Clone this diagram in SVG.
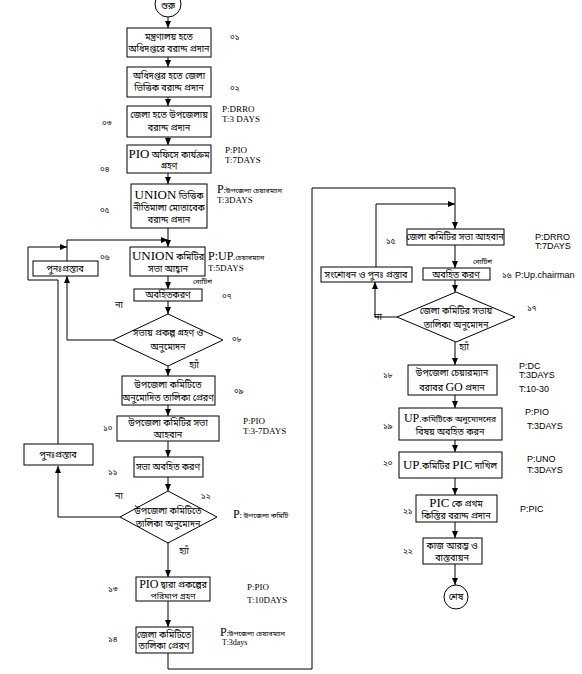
<svg xmlns="http://www.w3.org/2000/svg" width="582" height="674" viewBox="0 0 582 674">
<defs>
<marker id="ah" markerWidth="7" markerHeight="6" refX="7" refY="3" orient="auto" markerUnits="userSpaceOnUse">
<path d="M0,0 L7,3 L0,6 z" fill="#000"/>
</marker>
<style>
rect,circle,polygon{fill:#fff;stroke:#000;stroke-width:1}
.c path,.c line{fill:none;stroke:#000;stroke-width:1;marker-end:url(#ah)}
text{font-family:"Noto Sans Bengali","Noto Sans","DejaVu Sans",sans-serif;fill:#000}
.b{font-size:9px;text-anchor:middle}
.num{font-size:8px}
.big{font-family:"Liberation Serif",serif;font-size:13px}
.s{font-family:"Liberation Serif",serif;font-size:9px}
.sb{font-family:"Liberation Serif",serif;font-size:12px}
.a{font-family:"Liberation Sans",sans-serif;font-size:9px}
.sm{font-size:7px}
</style>
</defs>
<rect x="0" y="0" width="582" height="674" style="stroke:none;fill:#fff"/>

<g class="c" id="connectors">
<line x1="168" y1="17" x2="168" y2="28"/>
<line x1="168" y1="57" x2="168" y2="67"/>
<line x1="168" y1="97" x2="168" y2="106"/>
<line x1="168" y1="137" x2="168" y2="145"/>
<line x1="168" y1="173" x2="168" y2="184"/>
<line x1="168" y1="228" x2="168" y2="247"/>
<line x1="168" y1="276" x2="168" y2="289"/>
<line x1="168" y1="301" x2="168" y2="314"/>
<line x1="168" y1="366" x2="168" y2="376"/>
<line x1="168" y1="405" x2="168" y2="416"/>
<line x1="168" y1="441" x2="168" y2="457"/>
<line x1="168" y1="477" x2="168" y2="491"/>
<line x1="168" y1="543" x2="168" y2="577"/>
<line x1="168" y1="601" x2="168" y2="627"/>
<path d="M113,340 H67 V276"/>
<path d="M67,261 V240 H168"/>
<path d="M58,444 V280 H28 V247 H67"/>
<path d="M120,517 H58 V466"/>
<path d="M168,653 V669 H312 V188 H455 V229"/>
<line x1="455" y1="245" x2="455" y2="268"/>
<line x1="455" y1="280" x2="455" y2="292"/>
<path d="M397,317 H375 V282"/>
<path d="M376,267 V204 H455"/>
<line x1="455" y1="342" x2="455" y2="365"/>
<line x1="455" y1="395" x2="455" y2="408"/>
<line x1="455" y1="440" x2="455" y2="452"/>
<line x1="455" y1="478" x2="455" y2="495"/>
<line x1="455" y1="522" x2="455" y2="538"/>
<line x1="455" y1="564" x2="455" y2="585"/>
</g>

<g id="start"><circle cx="168" cy="4" r="13"/><text class="b" x="168" y="9">শুরু</text></g>

<g id="n01"><rect x="127" y="28" width="84" height="29"/>
<text class="b" x="169" y="40">মন্ত্রণালয় হতে</text><text class="b" x="169" y="52">অধিদপ্তরে বরাদ্দ প্রদান</text>
<text class="num" x="230" y="40">০১</text></g>

<g id="n02"><rect x="127" y="67" width="84" height="30"/>
<text class="b" x="169" y="79">অধিদপ্তর  হতে জেলা</text><text class="b" x="169" y="91">ভিত্তিক বরাদ্দ প্রদান</text>
<text class="num" x="230" y="91">০২</text></g>

<g id="n03"><rect x="127" y="106" width="84" height="31"/>
<text class="b" x="169" y="118">জেলা হতে উপজেলায়</text><text class="b" x="169" y="131">বরাদ্দ প্রদান</text>
<text class="num" x="102" y="126">০৩</text>
<text class="s" x="222" y="112">P:DRRO</text><text class="s" x="222" y="122">T:3 DAYS</text></g>

<g id="n04"><rect x="127" y="145" width="84" height="28"/>
<text class="b" x="169" y="158"><tspan class="big">PIO</tspan> অফিসে কার্যক্রম</text><text class="b" x="169" y="169">গ্রহণ</text>
<text class="num" x="100" y="172">০৪</text>
<text class="s" x="225" y="153">P:PIO</text><text class="s" x="225" y="163">T:7DAYS</text></g>

<g id="n05"><rect x="131" y="184" width="76" height="44"/>
<text class="b" x="169" y="199"><tspan class="big">UNION</tspan> ভিত্তিক</text><text class="b" x="169" y="211">নীতিমালা মোতাবেক</text><text class="b" x="169" y="223">বরাদ্দ প্রদান</text>
<text class="num" x="100" y="213">০৫</text>
<text x="217" y="193"><tspan class="sb">P</tspan><tspan class="sm">:উপজেলা চেয়ারম্যান</tspan></text><text class="s" x="217" y="203">T:3DAYS</text></g>

<g id="n06"><rect x="130" y="247" width="75" height="29"/>
<text class="b" x="168" y="260"><tspan class="big">UNION</tspan> কমিটির</text><text class="b" x="168" y="272">সভা আহ্বান</text>
<text class="num" x="100" y="260">০৬</text>
<text x="208" y="260"><tspan class="sb">P:UP</tspan><tspan class="sm">.চেয়ারম্যান</tspan></text><text class="s" x="208" y="271">T:5DAYS</text>
<text class="sm" x="193" y="284">নোটিশ</text></g>

<g id="re1"><rect x="33" y="261" width="65" height="15"/><text class="b" x="65" y="272">পুনঃপ্রস্তাব</text></g>

<g id="n07"><rect x="134" y="289" width="68" height="12"/>
<text class="b" x="168" y="298">অবহিতকরণ</text>
<text class="num" x="222" y="299">০৭</text></g>

<g id="n08"><polygon points="168,314 223,340 168,366 113,340"/>
<text class="b" x="168" y="336">সভায় প্রকল্প গ্রহণ ও</text><text class="b" x="168" y="350">অনুমোদন</text>
<text class="num" x="232" y="342">০৮</text>
<text class="b" x="119" y="308">না</text><text class="b" x="194" y="368">হ্যাঁ</text></g>

<g id="n09"><rect x="122" y="376" width="93" height="29"/>
<text class="b" x="168" y="388">উপজেলা কমিটিতে</text><text class="b" x="168" y="401">অনুমোদিত তালিকা প্রেরণ</text>
<text class="num" x="234" y="394">০৯</text></g>

<g id="n10"><rect x="117" y="416" width="102" height="25"/>
<text class="b" x="168" y="426">উপজেলা কমিটির সভা</text><text class="b" x="168" y="438">আহবান</text>
<text class="num" x="103" y="431">১০</text>
<text class="s" x="243" y="424">P:PIO</text><text class="s" x="243" y="434">T:3-7DAYS</text></g>

<g id="re2"><rect x="24" y="444" width="69" height="21"/><text class="b" x="58" y="458">পুনঃপ্রস্তাব</text></g>

<g id="n11"><rect x="134" y="457" width="69" height="20"/>
<text class="b" x="168" y="470">সভা অবহিত করণ</text>
<text class="num" x="108" y="475">১১</text></g>

<g id="n12"><polygon points="168,491 217,517 168,543 120,517"/>
<text class="b" x="168" y="514">উপজেলা কমিটিতে</text><text class="b" x="168" y="527">তালিকা অনুমোদন</text>
<text class="num" x="201" y="499">১২</text>
<text class="b" x="119" y="499">না</text><text class="b" x="184" y="554">হ্যাঁ</text>
<text x="233" y="518"><tspan class="sb">P</tspan><tspan class="sm">: উপজেলা কমিটি</tspan></text></g>

<g id="n13"><rect x="136" y="577" width="74" height="24"/>
<text class="b" x="173" y="588"><tspan class="big" style="font-size:12px">PIO</tspan> দ্বারা প্রকল্পের</text><text class="b" x="173" y="599" style="font-size:8.5px">পরিমাপ গ্রহণ</text>
<text class="num" x="108" y="592">১৩</text>
<text class="s" x="247" y="590">P:PIO</text><text class="s" x="247" y="603">T:10DAYS</text></g>

<g id="n14"><rect x="136" y="627" width="57" height="26"/>
<text class="b" x="164" y="638">জেলা কমিটিতে</text><text class="b" x="164" y="649">তালিকা প্রেরণ</text>
<text class="num" x="108" y="642">১৪</text>
<text x="220" y="636"><tspan class="sb">P</tspan><tspan class="sm">:উপজেলা চেয়ারম্যান</tspan></text><text class="s" x="222" y="645" style="font-size:8px">T:3days</text></g>

<g id="n15"><rect x="407" y="229" width="97" height="16"/>
<text class="b" x="455" y="240">জেলা কমিটির সভা আহবান</text>
<text class="num" x="386" y="244">১৫</text>
<text class="a" x="535" y="240">P:DRRO</text><text class="a" x="535" y="249">T:7DAYS</text></g>

<g id="rev"><rect x="321" y="267" width="91" height="15"/><text class="b" x="366" y="278">সংশোধন ও  পুনঃ প্রস্তাব</text></g>

<g id="n16"><rect x="423" y="268" width="67" height="12"/>
<text class="b" x="456" y="278">অবহিত করণ</text>
<text class="sm" x="473" y="264">নোটিশ</text>
<text class="num" x="502" y="278">১৬</text><text class="a" x="515" y="278">P:Up.chairman</text></g>

<g id="n17"><polygon points="456,292 515,317 456,342 397,317"/>
<text class="b" x="456" y="314">জেলা কমিটির সভায়</text><text class="b" x="456" y="328">তালিকা অনুমোদন</text>
<text class="num" x="527" y="311">১৭</text>
<text class="b" x="378" y="320">না</text><text class="b" x="464" y="350">হ্যাঁ</text></g>

<g id="n18"><rect x="408" y="365" width="89" height="30"/>
<text class="b" x="452" y="376">উপজেলা চেয়ারম্যান</text><text class="b" x="452" y="391">বরাবর <tspan class="big" style="font-size:12px">GO</tspan> প্রদান</text>
<text class="num" x="383" y="378">১৮</text>
<text class="a" x="519" y="369">P:DC</text><text class="a" x="519" y="378">T:3DAYS</text><text class="a" x="519" y="392">T:10-30</text></g>

<g id="n19"><rect x="399" y="408" width="103" height="32"/>
<text class="b" x="450" y="422" style="font-size:8.5px"><tspan class="big" style="font-size:12px">UP</tspan>.কমিটিকে অনুমোদনের</text><text class="b" x="450" y="435">বিষয় অবহিত করন</text>
<text class="num" x="383" y="429">১৯</text>
<text class="a" x="525" y="415">P:PIO</text><text class="a" x="527" y="429">T:3DAYS</text></g>

<g id="n20"><rect x="399" y="452" width="103" height="26"/>
<text class="b" x="450" y="469"><tspan class="big">UP</tspan>.কমিটির <tspan class="big">PIC</tspan> দাখিল</text>
<text class="num" x="383" y="466">২০</text>
<text class="a" x="527" y="462">P:UNO</text><text class="a" x="527" y="473">T:3DAYS</text></g>

<g id="n21"><rect x="416" y="495" width="81" height="27"/>
<text class="b" x="456" y="507"><tspan class="big">PIC</tspan> কে প্রথম</text><text class="b" x="456" y="519">কিস্তির বরাদ্দ প্রদান</text>
<text class="num" x="403" y="514">২১</text>
<text class="a" x="520" y="512">P:PIC</text></g>

<g id="n22"><rect x="423" y="538" width="59" height="26"/>
<text class="b" x="452" y="549">কাজ আরম্ভ ও</text><text class="b" x="452" y="561">বাস্তবায়ন</text>
<text class="num" x="403" y="554">২২</text></g>

<g id="end"><circle cx="456" cy="597" r="12"/><text class="b" x="456" y="600">শেষ</text></g>
</svg>
